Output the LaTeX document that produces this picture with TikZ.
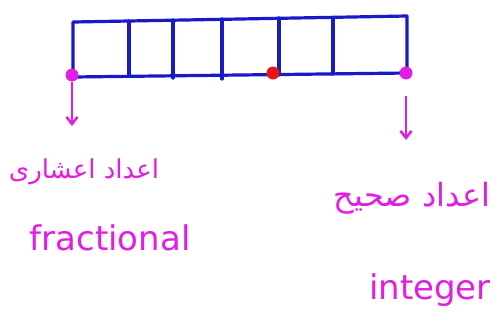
\documentclass[tikz,border=0pt]{standalone}
\usepackage{fontspec}
\usetikzlibrary{arrows.meta}
\setmainfont{DejaVu Sans}
\newfontfamily\arabicfont[Script=Arabic]{DejaVu Sans}
\TeXXeTstate=1
\definecolor{pen}{RGB}{225,30,225}
\definecolor{inkblue}{RGB}{25,25,200}
\definecolor{inkred}{RGB}{235,20,20}
\begin{document}
\begin{tikzpicture}[x=1pt,y=-1pt,
  cellline/.style={draw=inkblue,line width=3.2pt,line cap=round,line join=round},
  penarrow/.style={draw=pen,line width=2.6pt,-{Straight Barb[length=7pt,width=11pt]}},
  dotnode/.style={circle,inner sep=0pt,minimum size=13pt},
  pentext/.style={text=pen,inner sep=0pt}]
\useasboundingbox (0,0) rectangle (501,325);
% cells
\draw[cellline] (73,22) -- (407,16) -- (407,73) -- (73,77) -- cycle;
\foreach \x/\t/\b in {129/21/76,173/20/78,222/19/79,279/18/75,333/18/74}
  \draw[cellline] (\x,\t) -- (\x,\b);
% dots
\node[dotnode,fill=pen] (L) at (72,75) {};
\node[dotnode,fill=inkred] (M) at (273,73) {};
\node[dotnode,fill=pen] (R) at (406,73) {};
% labels
\node[pentext,font=\arabicfont\fontsize{26}{30}\selectfont] (fa) at (84,172) {\beginR اعداد اعشاری\endR};
\node[pentext,font=\fontsize{34}{38}\selectfont] (fe) at (110,238) {fractional};
\node[pentext,font=\arabicfont\fontsize{32}{36}\selectfont] (ia) at (412,198) {\beginR اعداد صحیح\endR};
\node[pentext,font=\fontsize{34}{38}\selectfont] (ie) at (430,290) {integer};
% arrows
\coordinate (Lend) at (72,126);
\coordinate (Rstart) at (406,96);
\coordinate (Rend) at (406,140);
\draw[penarrow] (L) -- (Lend);
\draw[penarrow] (Rstart) -- (Rend);
\end{tikzpicture}
\end{document}
